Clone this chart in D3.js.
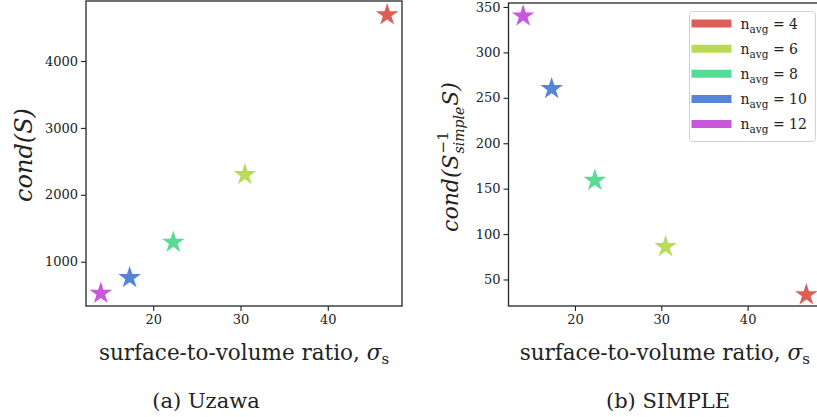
<!DOCTYPE html>
<html>
<head>
<meta charset="utf-8">
<script src="https://cdn.jsdelivr.net/npm/d3@7"></script>
<style>
  body { margin: 0; background: #fff; }
  svg text { font-family: "DejaVu Serif", "Liberation Serif", serif; fill: #222; }
</style>
</head>
<body>
<div id="chart"></div>
<script>
// data
const nAvg = [4, 6, 8, 10, 12];
const sigma = [46.8, 30.5, 22.3, 17.3, 14.0];
const condUzawa = [4690, 2300, 1290, 760, 527];
const condSimple = [33, 86, 159, 260, 340];
const colors = ["#db5e57", "#b9db57", "#57db94", "#5784db", "#c957db"];
const xTicks = [20, 30, 40];
const uzawaTicks = [1000, 2000, 3000, 4000];
const simpleTicks = [50, 100, 150, 200, 250, 300, 350];

const W = 817, H = 417;
const svg = d3.select("#chart").append("svg")
  .attr("width", W).attr("height", H);

const panels = [
  { x0: 86, x1: 402, y0: 1, y1: 306, yDom: [338, 4897], ys: condUzawa, yt: uzawaTicks, capX: 206, cap: "(a) Uzawa" },
  { x0: 508.5, x1: 821, y0: 3, y1: 306, yDom: [20.8, 354.4], ys: condSimple, yt: simpleTicks, capX: 668, cap: "(b) SIMPLE" }
];

const star = d3.symbol().type(d3.symbolStar).size(158);

panels.forEach((p, i) => {
  const x = d3.scaleLinear().domain([12.3, 48.5]).range([p.x0, p.x1]);
  const y = d3.scaleLinear().domain(p.yDom).range([p.y1, p.y0]);
  const g = svg.append("g");

  const xa = g.append("g").attr("transform", `translate(0,${p.y1})`)
    .call(d3.axisBottom(x).tickValues(xTicks).tickFormat(d3.format("d")).tickSize(5).tickPadding(4));
  const ya = g.append("g").attr("transform", `translate(${p.x0},0)`)
    .call(d3.axisLeft(y).tickValues(p.yt).tickFormat(d3.format("d")).tickSize(5).tickPadding(3));
  [xa, ya].forEach(a => {
    a.attr("font-family", null);
    a.select(".domain").remove();
    a.selectAll("line").attr("stroke", "#222").attr("stroke-width", 1.1);
    a.selectAll("text")
      .style("font-family", '"DejaVu Serif", serif')
      .style("font-size", "13px").attr("fill", "#222");
  });

  g.append("rect")
    .attr("x", p.x0).attr("y", p.y0)
    .attr("width", p.x1 - p.x0).attr("height", p.y1 - p.y0)
    .attr("fill", "none").attr("stroke", "#262626").attr("stroke-width", 1.3);

  g.selectAll("path.pt")
    .data(sigma)
    .join("path")
    .attr("class", "pt")
    .attr("d", star)
    .attr("transform", (d, j) => `translate(${x(d)},${y(p.ys[j])})`)
    .attr("fill", (d, j) => colors[j]);

  // x label
  const xl = g.append("text")
    .attr("x", (p.x0 + p.x1) / 2).attr("y", 360)
    .attr("text-anchor", "middle").style("font-size", "21.5px");
  xl.append("tspan").text("surface-to-volume ratio, ");
  xl.append("tspan").style("font-style", "italic").text("σ");
  xl.append("tspan").attr("dy", 4).style("font-size", "15px").text("s");

  // caption
  g.append("text")
    .attr("x", p.capX).attr("y", 408)
    .attr("text-anchor", "middle").style("font-size", "21px")
    .text(p.cap);
});

// y label left
svg.append("text")
  .attr("transform", "translate(32,155) rotate(-90)")
  .attr("text-anchor", "middle")
  .style("font-size", "24px").style("font-style", "italic")
  .text("cond(S)");

// y label right, built piecewise in rotated frame
const rl = svg.append("g");
const part = (txt, xx, yy, fs, it) => rl.append("text")
  .attr("x", xx).attr("y", yy)
  .style("font-size", fs + "px").style("font-style", it ? "italic" : "normal").text(txt);
const a1 = part("cond(S", 0, 0, 22, true);
const w1 = a1.node().getComputedTextLength();
const sup = part("−1", w1 + 1, -10, 15, false);
const sub = part("simple", w1 + 1, 6, 14, true);
const w2 = Math.max(sup.node().getComputedTextLength(), sub.node().getComputedTextLength());
const a2 = part("S)", w1 + w2 + 2, 0, 22, true);
const total = w1 + w2 + 2 + a2.node().getComputedTextLength();
rl.attr("transform", `translate(458,${157 + total / 2}) rotate(-90)`);

// legend
const lg = svg.append("g");
lg.append("rect")
  .attr("x", 689.5).attr("y", 11.5).attr("width", 126).attr("height", 130)
  .attr("rx", 3).attr("fill", "#fff").attr("fill-opacity", 0.85)
  .attr("stroke", "#d0d0d0");
const rowY = d3.scaleLinear().domain([0, nAvg.length - 1]).range([23.5, 124]);
nAvg.forEach((n, j) => {
  lg.append("line")
    .attr("x1", 691.5).attr("x2", 731.5)
    .attr("y1", rowY(j)).attr("y2", rowY(j))
    .attr("stroke", colors[j]).attr("stroke-width", 8);
  const t = lg.append("text")
    .attr("x", 740.5).attr("y", rowY(j) + 5)
    .style("font-size", "14px");
  t.append("tspan").text("n");
  t.append("tspan").attr("dy", 4).style("font-size", "10.5px").text("avg");
  t.append("tspan").attr("dy", -4).text(" = " + n);
});
</script>
</body>
</html>
